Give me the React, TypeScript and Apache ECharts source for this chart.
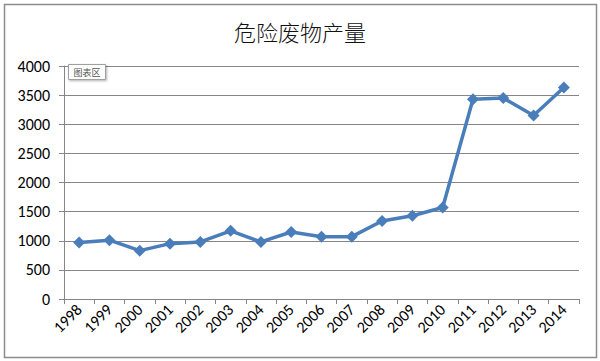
import React, { useEffect, useRef } from "react";
import * as echarts from "echarts";

const title = "危险废物产量";
const years = ["1998","1999","2000","2001","2002","2003","2004","2005","2006","2007","2008","2009","2010","2011","2012","2013","2014"];
const values = [970, 1010, 830, 950, 980, 1170, 980, 1150, 1070, 1070, 1340, 1430, 1570, 3430, 3450, 3150, 3630];
const yTicks = { min: 0, max: 4000, interval: 500 };

export default function App() {
  const ref = useRef<HTMLDivElement>(null);
  useEffect(() => {
    document.body.style.margin = "0";
    const chart = echarts.init(ref.current!, undefined, { renderer: "svg" });
    const font = "Carlito, Calibri, 'Liberation Sans', 'Noto Sans CJK SC', sans-serif";
    chart.setOption({
      animation: false,
      backgroundColor: "#ffffff",
      title: {
        text: title,
        left: "center",
        top: 15,
        textStyle: { fontSize: 22, fontWeight: 300, color: "#111", fontFamily: "'Noto Sans CJK SC', sans-serif" },
      },
      grid: { left: 64, right: 21, top: 66, bottom: 62, containLabel: false },
      xAxis: {
        type: "category",
        data: years,
        boundaryGap: true,
        axisLine: { lineStyle: { color: "#868686", width: 1 } },
        axisTick: { show: true, alignWithLabel: false, length: 5, lineStyle: { color: "#868686" } },
        axisLabel: { rotate: 45, fontSize: 16, color: "#000", fontFamily: font, margin: 8, interval: 0 },
      },
      yAxis: {
        type: "value",
        min: yTicks.min,
        max: yTicks.max,
        interval: yTicks.interval,
        axisLine: { show: true, lineStyle: { color: "#868686", width: 1 } },
        axisTick: { show: true, length: 5, lineStyle: { color: "#868686" } },
        axisLabel: { fontSize: 16, color: "#000", fontFamily: font, margin: 14, formatter: (v: number) => String(v) },
        splitLine: { show: true, lineStyle: { color: "#868686", width: 1 } },
      },
      series: [
        {
          type: "line",
          data: values,
          symbol: "diamond",
          symbolSize: 12,
          lineStyle: { color: "#4A7EBB", width: 3.5 },
          itemStyle: { color: "#4A7EBB" },
        },
      ],
      graphic: [
        {
          type: "rect",
          shape: { x: 4.5, y: 4.5, width: 592, height: 353 },
          style: { fill: "none", stroke: "#8c8c8c", lineWidth: 1.5 },
          silent: true,
        },
        {
          type: "rect",
          shape: { x: 68.5, y: 64.5, width: 37, height: 15 },
          style: { fill: "#fdfdfd", stroke: "#a0a0a0", lineWidth: 1, shadowBlur: 2, shadowColor: "rgba(0,0,0,0.3)", shadowOffsetX: 1, shadowOffsetY: 1 },
          z: 100,
        },
        {
          type: "text",
          x: 87,
          y: 72,
          style: { text: "图表区", fontSize: 9, fill: "#555", align: "center", verticalAlign: "middle", fontFamily: "'Noto Sans CJK SC', sans-serif" },
          z: 101,
        },
      ],
    });
    return () => chart.dispose();
  }, []);
  return <div ref={ref} style={{ position: "absolute", left: 0, top: 0, width: 600, height: 361 }} />;
}
